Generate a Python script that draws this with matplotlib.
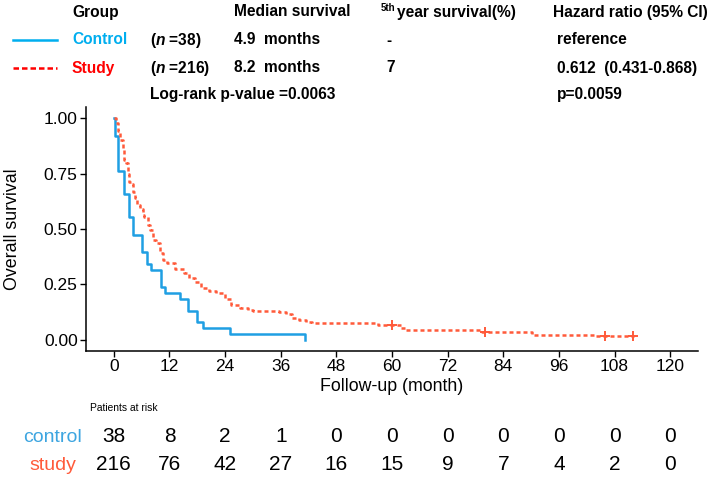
import matplotlib
matplotlib.use("Agg")
import matplotlib.pyplot as plt
import matplotlib.transforms as mtransforms

plt.rcParams['font.family'] = ['Liberation Sans', 'DejaVu Sans']
plt.rcParams['mathtext.fontset'] = 'custom'
plt.rcParams['mathtext.it'] = 'Liberation Sans:italic:bold'
plt.rcParams['mathtext.rm'] = 'Liberation Sans:bold'

# Kaplan-Meier steps
control_time = [0, 0.15, 0.9, 2.2, 3.2, 4.1, 6.0, 7.1, 8.1, 10.1, 11.0, 14.2, 16.1, 17.9, 19.2, 25.1, 41.2]
control_surv = [1.0, 0.921, 0.763, 0.658, 0.553, 0.474, 0.395, 0.342, 0.316, 0.237, 0.211,
                0.184, 0.132, 0.079, 0.053, 0.026, 0.0]

study_time = [0, 0.5, 0.9, 1.3, 1.9, 2.2, 2.6, 3.0, 3.2, 3.6, 4.1, 4.6, 5.1, 5.6, 6.2,
              6.6, 7.3, 7.9, 8.4, 9.1, 10.0, 10.6, 11.5, 13.1, 15.2, 16.3, 17.6, 18.8, 20.6, 22.1,
              23.9, 25.3, 27.2, 29.0, 30.0, 35.7, 37.2, 38.5, 40.0, 41.5, 42.8, 44.0, 57.0, 61.9, 63.0,
              79.5, 90.3, 104.0, 112.2]
study_surv = [1.0, 0.98, 0.94, 0.90, 0.865, 0.81, 0.796, 0.75, 0.71, 0.703, 0.665, 0.64, 0.61, 0.59, 0.563,
              0.553, 0.518, 0.495, 0.45, 0.435, 0.39, 0.36, 0.345, 0.32, 0.30, 0.28, 0.259, 0.233, 0.222, 0.21,
              0.185, 0.158, 0.143, 0.135, 0.131, 0.126, 0.116, 0.10, 0.09, 0.082, 0.078, 0.075, 0.068, 0.052, 0.045,
              0.037, 0.024, 0.016, 0.016]
study_cens_time = [60, 80, 106, 112]
study_cens_surv = [0.068, 0.037, 0.016, 0.016]

risk_times = [0, 12, 24, 36, 48, 60, 72, 84, 96, 108, 120]
risk_control = [38, 8, 2, 1, 0, 0, 0, 0, 0, 0, 0]
risk_study = [216, 76, 42, 27, 16, 15, 9, 7, 4, 2, 0]

blue = '#1F9FE3'
red = '#FF5A3A'

W, H = 709, 483
fig = plt.figure(figsize=(W / 100, H / 100), dpi=100)


def px(x, y):
    return x / W, 1 - y / H


ax = fig.add_axes([86 / W, 1 - 351 / H, (698 - 86) / W, (351 - 107) / H])
ax.step(control_time, control_surv, where='post', color=blue, lw=1.8)
line, = ax.step(study_time, study_surv, where='post', color=red, lw=1.8)
line.set_dashes([1.6, 1.2])
ax.plot(study_cens_time, study_cens_surv, ls='none', marker='+', ms=7, mew=1.4, color=red)

ax.set_xlim(-6, 126)
ax.set_ylim(-0.05, 1.05)
ax.set_xticks(risk_times)
ax.set_yticks([0, 0.25, 0.5, 0.75, 1.0])
ax.set_yticklabels(['0.00', '0.25', '0.50', '0.75', '1.00'])
ax.tick_params(labelsize=12.5, length=4, width=1, colors='black', pad=2)
for s in ['top', 'right']:
    ax.spines[s].set_visible(False)
for s in ['left', 'bottom']:
    ax.spines[s].set_linewidth(1.1)
ax.set_xlabel('Follow-up (month)', fontsize=12.8)
ax.set_ylabel('Overall survival', fontsize=12.8)
ax.xaxis.set_label_coords((392 - 86) / 612, (351 - 378) / 244)
ax.yaxis.set_label_coords((21 - 86) / 612, 0.5)

# header table
hdr = dict(fontsize=11.2, fontweight='bold', va='center', ha='left')
fig.text(*px(72, 12), 'Group', **hdr)
fig.text(*px(234, 12), 'Median survival', **hdr)
fig.text(*px(381, 8), '5th', fontsize=7, fontweight='bold', va='center', ha='left')
fig.text(*px(397, 12), 'year survival(%)', **hdr)
fig.text(*px(553, 12), 'Hazard ratio (95% CI)', **hdr)

fig.add_artist(plt.Line2D([13 / W, 57 / W], [1 - 40 / H, 1 - 40 / H], color='#00AEEF', lw=1.8))
leg2 = plt.Line2D([13 / W, 57 / W], [1 - 68 / H, 1 - 68 / H], color='#FF0000', lw=1.8)
leg2.set_dashes([2.2, 1.2])
fig.add_artist(leg2)

fig.text(*px(72, 40), 'Control', color='#00AEEF', **hdr)
fig.text(*px(150, 40), r'($\mathit{n}$ =38)', **hdr)
fig.text(*px(234, 40), '4.9  months', **hdr)
fig.text(*px(386, 40), '-', **hdr)
fig.text(*px(557, 40), 'reference', **hdr)

fig.text(*px(72, 68), 'Study', color='#FF0000', **hdr)
fig.text(*px(150, 68), r'($\mathit{n}$ =216)', **hdr)
fig.text(*px(234, 68), '8.2  months', **hdr)
fig.text(*px(386, 68), '7', **hdr)
fig.text(*px(557, 68), '0.612  (0.431-0.868)', **hdr)

fig.text(*px(150, 95), 'Log-rank p-value =0.0063', **hdr)
fig.text(*px(557, 95), 'p=0.0059', **hdr)

# risk table
fig.text(*px(90, 408), 'Patients at risk', fontsize=7.4, va='center', ha='left')
tr = mtransforms.blended_transform_factory(ax.transData, fig.transFigure)
fig.text(*px(53, 437), 'control', color='#3DA5E0', fontsize=14, va='center', ha='center')
fig.text(*px(53, 465), 'study', color=red, fontsize=14, va='center', ha='center')
for t, c, s in zip(risk_times, risk_control, risk_study):
    ax.text(t, 1 - 437 / H, str(c), transform=tr, fontsize=15, va='center', ha='center', clip_on=False)
    ax.text(t, 1 - 465 / H, str(s), transform=tr, fontsize=15, va='center', ha='center', clip_on=False)

fig.savefig('out.png', dpi=100)
